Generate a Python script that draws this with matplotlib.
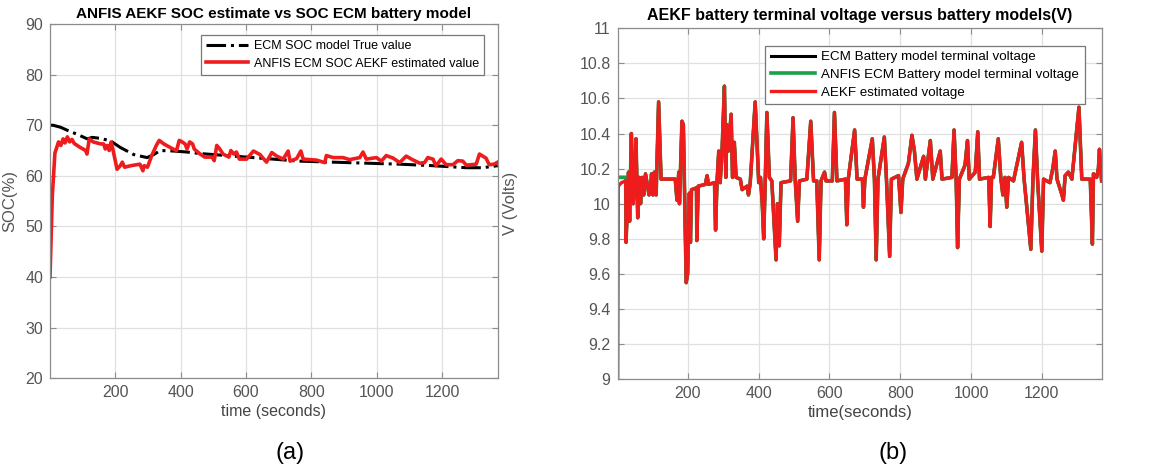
import numpy as np
import matplotlib
matplotlib.use("Agg")
import matplotlib.pyplot as plt

plt.rcParams['font.family'] = ['Liberation Sans', 'DejaVu Sans']

# ---- (a) SOC data: (time s, SOC %) ----
soc_true = [(1, 70.0), (10, 70.0), (33, 69.6), (54, 69.0), (84, 68.2), (115, 67.3),
            (130, 67.6), (155, 67.4), (186, 66.9), (216, 65.6), (257, 64.2), (298, 63.6),
            (318, 64.2), (338, 65.0), (379, 64.9), (420, 64.7), (460, 64.4), (562, 63.9),
            (663, 63.4), (765, 62.9), (867, 62.7), (968, 62.5), (1070, 62.3), (1172, 62.0),
            (1274, 61.6), (1324, 61.6), (1370, 62.0)]

soc_est = [(1, 40.0), (8, 56.0), (16, 64.5), (22, 65.7), (27, 66.7), (34, 66.0), (41, 67.3),
           (47, 66.5), (54, 67.7), (61, 66.7), (68, 67.2), (75, 66.4), (91, 65.7), (110, 65.0),
           (114, 64.3), (121, 67.3), (133, 66.7), (156, 66.3), (165, 66.3), (170, 65.3),
           (176, 66.0), (182, 65.0), (188, 66.7), (193, 65.3), (206, 61.3), (216, 62.0),
           (222, 62.7), (229, 61.7), (248, 62.0), (276, 62.3), (285, 61.0), (289, 62.0),
           (299, 61.7), (312, 64.0), (326, 66.0), (335, 67.0), (349, 66.3), (377, 65.3),
           (388, 65.0), (396, 67.0), (405, 66.7), (414, 66.3), (420, 65.3), (428, 66.7),
           (437, 66.3), (442, 65.3), (460, 64.3), (474, 63.7), (497, 63.7), (503, 63.0),
           (511, 66.0), (520, 65.3), (530, 64.3), (548, 63.7), (554, 65.0), (563, 64.3),
           (571, 64.7), (580, 63.3), (602, 63.3), (623, 64.9), (643, 64.2), (663, 62.7),
           (679, 64.6), (694, 63.9), (714, 63.3), (729, 64.9), (735, 62.9), (755, 63.4),
           (768, 64.9), (775, 63.3), (816, 63.1), (841, 62.6), (846, 64.0), (867, 63.6),
           (897, 63.6), (917, 63.2), (948, 63.6), (958, 64.7), (968, 63.3), (999, 63.6),
           (1014, 62.9), (1029, 64.0), (1050, 63.5), (1070, 62.6), (1090, 63.9), (1106, 63.3),
           (1131, 62.5), (1146, 62.6), (1156, 63.6), (1172, 63.3), (1181, 62.0), (1197, 63.3),
           (1212, 62.2), (1233, 62.2), (1248, 63.0), (1263, 62.9), (1274, 62.1), (1304, 62.3),
           (1314, 64.3), (1334, 63.5), (1344, 62.2), (1359, 62.3), (1370, 62.7)]

# ---- (b) terminal voltage data: (time s, V) ----
model_init = [(1, 10.15), (24, 10.15)]
aekf_init = [(1, 9.0), (1.5, 9.0), (3, 10.1), (12, 10.12), (24, 10.13)]

# common part followed by models and estimate after convergence
v_track = [(25, 9.78), (30, 10.05), (32, 10.18), (35, 9.90), (40, 10.40), (45, 10.00),
           (49, 10.10), (53, 10.37), (58, 9.92), (62, 10.15), (66, 10.00), (70, 10.15),
           (75, 10.05), (80, 10.17), (90, 10.05), (94, 10.07), (97, 10.17), (101, 10.05),
           (105, 10.18), (110, 10.05), (117, 10.58), (124, 10.14), (164, 10.14), (169, 10.02),
           (174, 10.18), (176, 10.00), (183, 10.47), (187, 10.45), (195, 9.55), (199, 9.60),
           (204, 10.06), (207, 9.78), (210, 10.08), (224, 10.09), (225, 9.79), (229, 10.10),
           (249, 10.11), (254, 10.16), (258, 10.11), (275, 10.12), (278, 9.85), (282, 10.12),
           (287, 10.30), (291, 10.12), (296, 10.28), (303, 10.67), (307, 10.15), (310, 10.45),
           (314, 10.30), (322, 10.51), (326, 10.15), (331, 10.35), (336, 10.15), (348, 10.14),
           (353, 10.08), (367, 10.10), (371, 10.05), (376, 10.12), (390, 10.58), (400, 10.12),
           (405, 10.15), (410, 10.00), (414, 9.80), (418, 10.10), (423, 10.52), (430, 10.15),
           (437, 10.13), (449, 9.68), (453, 10.00), (458, 9.76), (463, 10.12), (490, 10.13),
           (497, 10.49), (503, 10.14), (510, 9.90), (515, 10.13), (536, 10.14), (547, 10.47),
           (555, 10.13), (564, 10.13), (571, 9.68), (576, 10.13), (586, 10.18), (590, 10.13),
           (608, 10.13), (614, 10.52), (621, 10.13), (645, 10.14), (649, 9.88), (653, 10.14),
           (671, 10.42), (678, 10.14), (693, 10.14), (696, 9.98), (700, 10.14), (721, 10.37),
           (727, 10.14), (732, 9.68), (737, 10.14), (755, 10.38), (761, 10.14), (770, 9.70),
           (775, 10.14), (795, 10.16), (802, 9.95), (807, 10.14), (823, 10.23), (833, 10.39),
           (840, 10.30), (847, 10.14), (866, 10.27), (871, 10.14), (885, 10.36), (892, 10.14),
           (913, 10.30), (918, 10.14), (946, 10.15), (952, 10.42), (958, 10.14), (962, 9.75),
           (967, 10.14), (983, 10.22), (990, 10.36), (995, 10.14), (1012, 10.18), (1019, 10.41),
           (1024, 10.14), (1050, 10.15), (1054, 9.87), (1058, 10.15), (1063, 10.15),
           (1077, 10.37), (1084, 10.15), (1090, 10.05), (1096, 10.15), (1101, 9.98),
           (1106, 10.15), (1120, 10.13), (1143, 10.35), (1150, 10.14), (1169, 9.74),
           (1175, 10.14), (1182, 10.42), (1188, 10.14), (1200, 9.73), (1205, 10.14),
           (1223, 10.12), (1231, 10.20), (1238, 10.30), (1243, 10.14), (1257, 10.05),
           (1261, 10.02), (1266, 10.16), (1275, 10.18), (1285, 10.14), (1305, 10.55),
           (1313, 10.14), (1337, 10.14), (1343, 9.77), (1346, 10.17), (1355, 10.15),
           (1360, 10.20), (1363, 10.31), (1369, 10.13)]

xticks = [200, 400, 600, 800, 1000, 1200]
soc_yticks = [20, 30, 40, 50, 60, 70, 80, 90]
v_yticks = [9, 9.2, 9.4, 9.6, 9.8, 10, 10.2, 10.4, 10.6, 10.8, 11]
v_yticklabels = ['9', '9.2', '9.4', '9.6', '9.8', '10', '10.2', '10.4', '10.6', '10.8', '11']

SPINE = '#8c8c8c'
TICK = '#555555'


def matlab_style(ax):
    ax.grid(True, color='#e0e0e0', lw=0.9)
    ax.set_axisbelow(True)
    for s in ax.spines.values():
        s.set_color(SPINE)
        s.set_linewidth(0.9)
    ax.tick_params(direction='in', length=4, color=SPINE, labelcolor=TICK,
                   labelsize=11.5, top=True, right=True, pad=5)


fig = plt.figure(figsize=(11.63, 4.71), dpi=100)

# ---------- (a) ----------
ax1 = fig.add_axes([0.043, 0.197, 0.385, 0.752])
t, s = np.array(soc_true).T
ax1.plot(t, s, color='black', ls='-.', lw=2.2, label='ECM SOC model True value')
t, s = np.array(soc_est).T
ax1.plot(t, s, color='#ee1c1c', lw=2.6, label='ANFIS ECM SOC AEKF estimated value')
ax1.set_xlim(1, 1370)
ax1.set_ylim(20, 90)
ax1.set_xticks(xticks)
ax1.set_yticks(soc_yticks)
matlab_style(ax1)
ax1.set_title('ANFIS AEKF SOC estimate vs SOC ECM battery model',
              fontsize=11, fontweight='bold', pad=4)
ax1.set_xlabel('time (seconds)', fontsize=11.5, color='#444444', labelpad=3)
ax1.set_ylabel('SOC(%)', fontsize=12, color='#555555')
ax1.yaxis.set_label_coords(-0.072, 0.5)
leg = ax1.legend(loc='upper right', fontsize=9, handlelength=3.3, fancybox=False,
                 framealpha=1, edgecolor='#777777', borderpad=0.4, labelspacing=0.45,
                 handletextpad=0.5, bbox_to_anchor=(0.983, 0.987))
leg.get_frame().set_linewidth(0.9)

# ---------- (b) ----------
ax2 = fig.add_axes([0.531, 0.195, 0.4165, 0.745])
tm, vm = np.array(model_init + v_track).T
ta, va = np.array(aekf_init + v_track).T
ax2.plot(tm, vm, color='black', lw=2.2, label='ECM Battery model terminal voltage')
ax2.plot(tm, vm, color='#1aa04a', lw=2.6, label='ANFIS ECM Battery model terminal voltage')
ax2.plot(ta, va, color='#ee1c1c', lw=2.4, label='AEKF estimated voltage')
ax2.set_xlim(1, 1370)
ax2.set_ylim(9, 11)
ax2.set_xticks(xticks)
ax2.set_yticks(v_yticks)
ax2.set_yticklabels(v_yticklabels)
matlab_style(ax2)
ax2.set_title('AEKF battery terminal voltage versus battery models(V)',
              fontsize=11.5, fontweight='bold', pad=6)
ax2.set_xlabel('time(seconds)', fontsize=12, color='#444444', labelpad=3)
ax2.set_ylabel('V (Volts)', fontsize=12, color='#555555')
ax2.yaxis.set_label_coords(-0.205, 0.5)
leg = ax2.legend(loc='upper right', fontsize=9.6, handlelength=3.3, fancybox=False,
                 framealpha=1, edgecolor='#777777', borderpad=0.4, labelspacing=0.4,
                 handletextpad=0.5, bbox_to_anchor=(0.978, 0.969))
leg.get_frame().set_linewidth(0.9)

fig.text(290 / 1163, 1 - 453 / 471, '(a)', fontsize=17, ha='center', va='center')
fig.text(893 / 1163, 1 - 453 / 471, '(b)', fontsize=17, ha='center', va='center')

fig.savefig('out.png', dpi=100, facecolor='white')
